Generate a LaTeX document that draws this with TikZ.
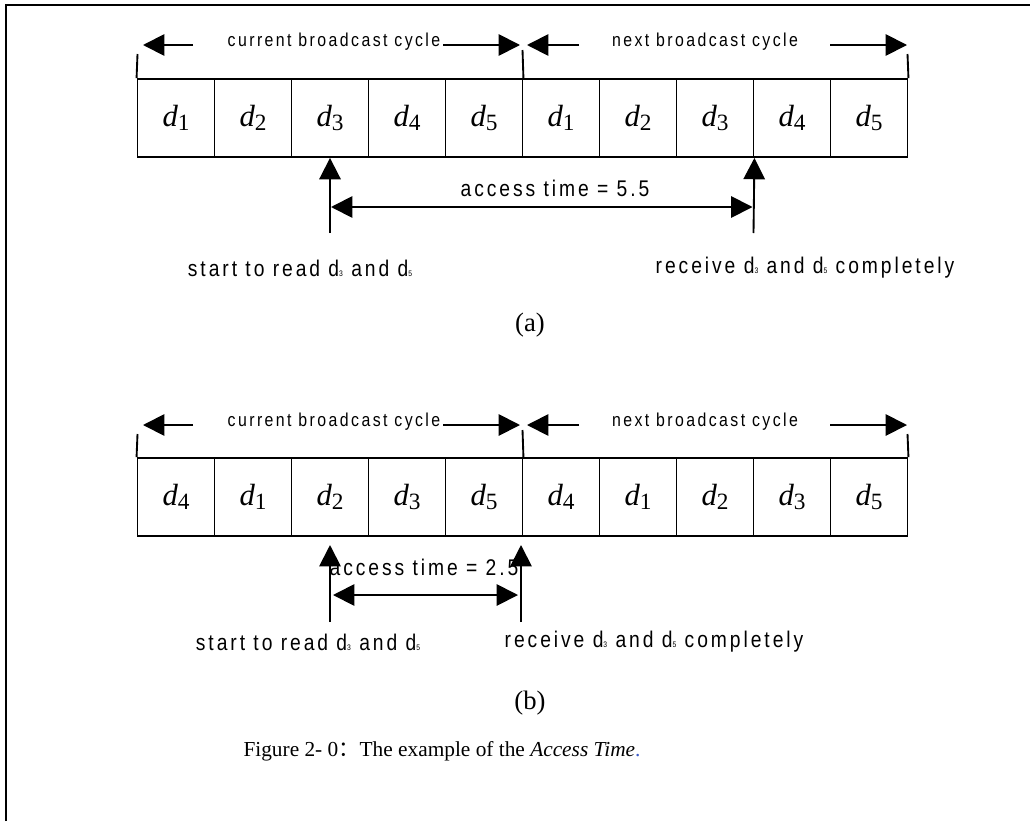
\documentclass[tikz,border=0pt]{standalone}
\usepackage{fontspec}
\setmainfont{Liberation Serif}
\newfontfamily\gul[FakeStretch=0.85,LetterSpace=13]{Liberation Sans}
\newfontfamily\cjk{Noto Sans CJK SC}
\usetikzlibrary{arrows.meta}
\newcommand\dcell[1]{{\itshape d}\raisebox{-2.5pt}{\fontsize{17.5}{17.5}\selectfont #1}}
\newcommand\dlab[1]{d\raisebox{0pt}{\fontsize{6}{6}\selectfont #1}}
\definecolor{dotblue}{RGB}{60,90,200}
\begin{document}
\begin{tikzpicture}[x=0.75pt,y=-0.75pt,
  lw/.style={line width=1.4pt},
  cell/.style={draw,lw,minimum width=57.75pt,minimum height=58.5pt,inner sep=0pt,font=\fontsize{23}{23}\selectfont},
  toplab/.style={font=\gul\fontsize{14}{14}\selectfont,inner sep=0pt},
  lab/.style={font=\gul\fontsize{17}{17}\selectfont,inner sep=0pt},
  big/.style={font=\fontsize{20}{20}\selectfont,inner sep=0pt},
  tip/.style={-{Triangle[length=16pt,width=16pt]},lw},
  dtip/.style={{Triangle[length=16pt,width=16pt]}-{Triangle[length=16pt,width=16pt]},lw}]
\useasboundingbox (0,0) rectangle (1030,821);
% frame
\draw[line width=1.6pt] (6,821) -- (6,5) -- (1030,5);

% ---------- (a) ----------
\foreach \i/\s in {1/1,2/2,3/3,4/4,5/5,6/1,7/2,8/3,9/4,10/5}
  \node[cell] (a\i) at ({137.5+77*(\i-0.5)},118) {\dcell{\s}};
% ticks
\coordinate (at1) at (137.5,54); \coordinate (at2) at (522.5,50); \coordinate (at3) at (907.5,54);
\draw[lw] (a1.north west) -- (at1);
\draw[lw] (a5.north east) -- (at2);
\draw[lw] (a10.north east) -- (at3);
% top arrows
\node[toplab] (acur) at (334,42) {current broadcast cycle};
\node[toplab] (anext) at (705,42) {next broadcast cycle};
\coordinate (al1) at (193,45); \coordinate (al1t) at (143,45);
\coordinate (ar1) at (443,45); \coordinate (ar1t) at (520,45);
\coordinate (al2) at (579,45); \coordinate (al2t) at (527,45);
\coordinate (ar2) at (830,45); \coordinate (ar2t) at (907,45);
\draw[tip] (al1) -- (al1t);
\draw[tip] (ar1) -- (ar1t);
\draw[tip] (al2) -- (al2t);
\draw[tip] (ar2) -- (ar2t);
% access arrows
\coordinate (as) at (330,233);
\coordinate (ae) at (753.5,233);
\draw[tip] (as) -- (a3.south);
\draw[tip] (ae) -- (a8.south east);
\coordinate (ah1) at (331,207); \coordinate (ah2) at (752.5,207);
\draw[dtip] (ah1) -- (ah2);
\node[lab] (aacc) at (555,188) {access time = 5.5};
\node[lab] (astart) at (300,268) {start to read \dlab{3} and \dlab{5}};
\node[lab] (arecv) at (805,268) {receive \dlab{3} and \dlab{5} completely};
\node[big] (acap) at (530,325) {(a)};

% ---------- (b) ----------
\foreach \i/\s in {1/4,2/1,3/2,4/3,5/5,6/4,7/1,8/2,9/3,10/5}
  \node[cell] (b\i) at ({137.5+77*(\i-0.5)},497) {\dcell{\s}};
\coordinate (bt1) at (137.5,434); \coordinate (bt2) at (522.5,430); \coordinate (bt3) at (907.5,434);
\draw[lw] (b1.north west) -- (bt1);
\draw[lw] (b5.north east) -- (bt2);
\draw[lw] (b10.north east) -- (bt3);
\node[toplab] (bcur) at (334,422) {current broadcast cycle};
\node[toplab] (bnext) at (705,422) {next broadcast cycle};
\coordinate (bl1) at (193,425); \coordinate (bl1t) at (143,425);
\coordinate (br1) at (443,425); \coordinate (br1t) at (520,425);
\coordinate (bl2) at (579,425); \coordinate (bl2t) at (527,425);
\coordinate (br2) at (830,425); \coordinate (br2t) at (907,425);
\draw[tip] (bl1) -- (bl1t);
\draw[tip] (br1) -- (br1t);
\draw[tip] (bl2) -- (bl2t);
\draw[tip] (br2) -- (br2t);
\coordinate (bs) at (330,622); \coordinate (bst) at (330,545);
\coordinate (be) at (521,622); \coordinate (bet) at (521,545);
\draw[tip] (bs) -- (bst);
\draw[tip] (be) -- (bet);
\coordinate (bh1) at (333,595); \coordinate (bh2) at (518,595);
\draw[dtip] (bh1) -- (bh2);
\node[lab] (bacc) at (424,567) {access time = 2.5};
\node[lab] (bstart) at (308,642) {start to read \dlab{3} and \dlab{5}};
\node[lab] (brecv) at (654,642) {receive \dlab{3} and \dlab{5} completely};
\node[big] (bcap) at (530,703) {(b)};

% caption
\node[font=\fontsize{16}{16}\selectfont,inner sep=0pt] (fig) at (442,751)
  {Figure 2- 0{\cjk ：}The example of the \textit{Access Time}\textcolor{dotblue}{.}};
\end{tikzpicture}
\end{document}
